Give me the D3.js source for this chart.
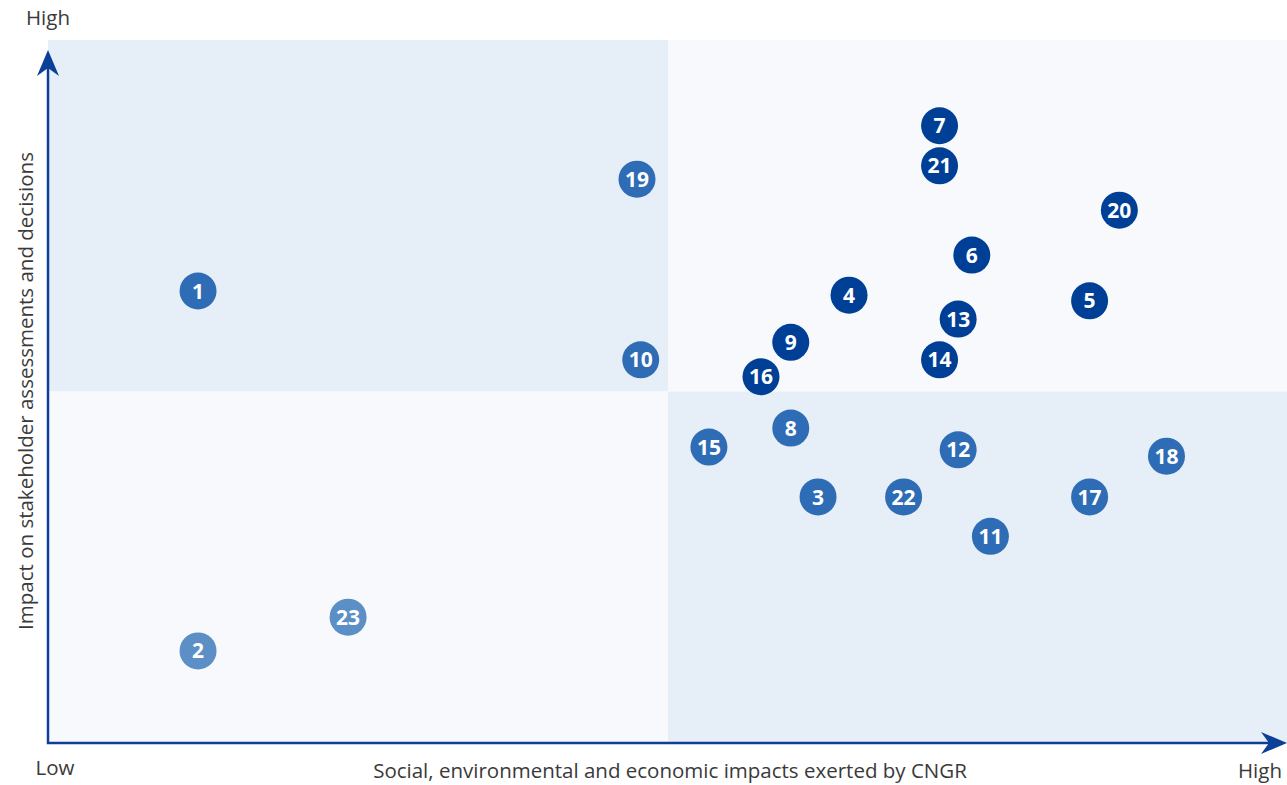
<!DOCTYPE html>
<html>
<head>
<meta charset="utf-8">
<script src="https://cdn.jsdelivr.net/npm/d3@7"></script>
<style>
  body { margin: 0; background: #fff; }
  svg { display: block; font-family: "Open Sans", sans-serif; }
</style>
</head>
<body>
<div id="chart"></div>
<script>
const ids = [1, 2, 3, 4, 5, 6, 7, 8, 9, 10, 11, 12, 13, 14, 15, 16, 17, 18, 19, 20, 21, 22, 23];
const xValues = [1.21, 1.21, 6.21, 6.46, 8.40, 7.45, 7.19, 5.99, 5.99, 4.78, 7.60, 7.34, 7.34, 7.19, 5.33, 5.75, 8.40, 9.02, 4.75, 8.64, 7.19, 6.90, 2.42];
const yValues = [6.43, 1.31, 3.50, 6.37, 6.29, 6.94, 8.78, 4.48, 5.70, 5.45, 2.94, 4.17, 6.03, 5.45, 4.21, 5.21, 3.50, 4.08, 8.02, 7.58, 8.21, 3.50, 1.79];
// 0 = high priority, 1 = medium, 2 = low
const levels = [1, 2, 1, 0, 0, 0, 0, 1, 0, 1, 1, 1, 0, 0, 1, 0, 1, 1, 1, 0, 0, 1, 2];
const levelColors = ["#003f96", "#2e6db5", "#5b8fc5"];
const xTitle = "Social, environmental and economic impacts exerted by CNGR";
const yTitle = "Impact on stakeholder assessments and decisions";
const lowLabel = "Low";
const highLabel = "High";

const W = 1287, H = 785;
const m = { left: 48, right: 1288, top: 40, bottom: 743 };

const x = d3.scaleLinear().domain([0, 10]).range([m.left, m.right]);
const y = d3.scaleLinear().domain([0, 10]).range([m.bottom, m.top]);

const svg = d3.select("#chart").append("svg")
  .attr("width", W)
  .attr("height", H);

// quadrants
const quads = [
  { x0: 0, x1: 5, y0: 5, y1: 10, fill: "#e6eef7" },
  { x0: 5, x1: 10, y0: 5, y1: 10, fill: "#f7f9fc" },
  { x0: 0, x1: 5, y0: 0, y1: 5, fill: "#f7f9fc" },
  { x0: 5, x1: 10, y0: 0, y1: 5, fill: "#e6eef7" }
];
svg.selectAll(".quad")
  .data(quads)
  .join("rect")
  .attr("class", "quad")
  .attr("x", d => x(d.x0))
  .attr("y", d => y(d.y1))
  .attr("width", d => x(d.x1) - x(d.x0))
  .attr("height", d => y(d.y0) - y(d.y1))
  .attr("fill", d => d.fill);

// axes
const axisColor = "#0b3f98";
svg.append("path")
  .attr("d", `M${m.left},${m.top + 14} L${m.left},${m.bottom} L${W - 14},${m.bottom}`)
  .attr("fill", "none")
  .attr("stroke", axisColor)
  .attr("stroke-width", 2.5);

// arrow heads
svg.append("path")
  .attr("d", `M${m.left},${m.top + 10} L${m.left + 11},${m.top + 36} L${m.left},${m.top + 28} L${m.left - 11},${m.top + 36} Z`)
  .attr("fill", axisColor);
svg.append("path")
  .attr("d", `M${W},${m.bottom} L${W - 26},${m.bottom - 11} L${W - 18},${m.bottom} L${W - 26},${m.bottom + 11} Z`)
  .attr("fill", axisColor);

// axis labels
const labelColor = "#3a3a3a";
svg.append("text").attr("x", 48).attr("y", 25).attr("text-anchor", "middle")
  .attr("font-size", 20.5).attr("fill", labelColor).text(highLabel);
svg.append("text").attr("x", 55).attr("y", 775).attr("text-anchor", "middle")
  .attr("font-size", 20.5).attr("fill", labelColor).text(lowLabel);
svg.append("text").attr("x", 1260).attr("y", 778).attr("text-anchor", "middle")
  .attr("font-size", 20.5).attr("fill", labelColor).text(highLabel);
svg.append("text").attr("x", 670).attr("y", 778).attr("text-anchor", "middle")
  .attr("font-size", 20.5).attr("fill", labelColor).text(xTitle);
svg.append("text")
  .attr("transform", `translate(33,${391}) rotate(-90)`)
  .attr("text-anchor", "middle")
  .attr("font-size", 20.5).attr("fill", labelColor).text(yTitle);

// points
const points = ids.map((id, i) => ({ id, x: xValues[i], y: yValues[i], level: levels[i] }));
const g = svg.selectAll(".pt")
  .data(points)
  .join("g")
  .attr("class", "pt")
  .attr("transform", d => `translate(${x(d.x)},${y(d.y)})`);
g.append("circle")
  .attr("r", 18.5)
  .attr("fill", d => levelColors[d.level]);
g.append("text")
  .attr("text-anchor", "middle")
  .attr("dy", "0.36em")
  .attr("font-size", 21)
  .attr("font-weight", "bold")
  .attr("fill", "#fff")
  .text(d => d.id);
</script>
</body>
</html>
